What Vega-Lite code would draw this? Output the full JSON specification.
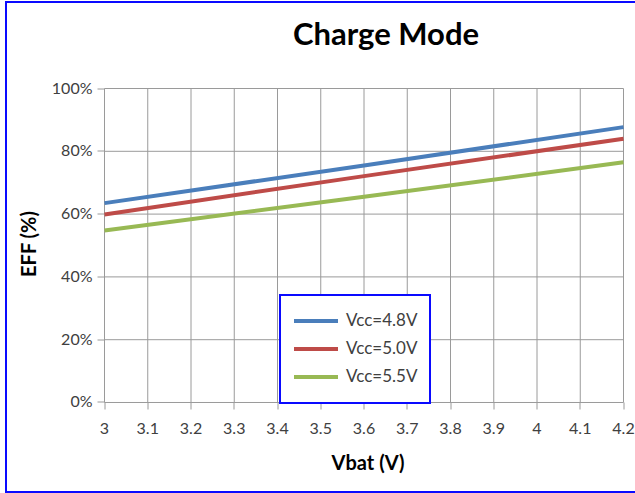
{
  "$schema": "https://vega.github.io/schema/vega-lite/v6.json",
  "width": 632,
  "height": 490,
  "autosize": "none",
  "padding": {"left": 6, "top": 2, "right": -3, "bottom": 1},
  "background": "white",
  "title": {
    "text": "Charge Mode",
    "font": "Lato",
    "fontSize": 31,
    "fontWeight": "bold",
    "color": "#000000",
    "anchor": "middle",
    "frame": "group",
    "dx": 64,
    "offset": -50
  },
  "datasets": {
    "curves": [
      {"vbat": 3.0, "eff": 0.635, "series": "Vcc=4.8V"},
      {"vbat": 3.6, "eff": 0.755, "series": "Vcc=4.8V"},
      {"vbat": 4.2, "eff": 0.877, "series": "Vcc=4.8V"},
      {"vbat": 3.0, "eff": 0.599, "series": "Vcc=5.0V"},
      {"vbat": 3.6, "eff": 0.721, "series": "Vcc=5.0V"},
      {"vbat": 4.2, "eff": 0.840, "series": "Vcc=5.0V"},
      {"vbat": 3.0, "eff": 0.548, "series": "Vcc=5.5V"},
      {"vbat": 3.6, "eff": 0.655, "series": "Vcc=5.5V"},
      {"vbat": 4.2, "eff": 0.765, "series": "Vcc=5.5V"}
    ],
    "xgrid": [
      {"vbat": 3.0}, {"vbat": 3.1}, {"vbat": 3.2}, {"vbat": 3.3}, {"vbat": 3.4},
      {"vbat": 3.5}, {"vbat": 3.6}, {"vbat": 3.7}, {"vbat": 3.8}, {"vbat": 3.9},
      {"vbat": 4.0}, {"vbat": 4.1}, {"vbat": 4.2}
    ],
    "ygrid": [
      {"eff": 0}, {"eff": 0.2}, {"eff": 0.4}, {"eff": 0.6}, {"eff": 0.8}, {"eff": 1}
    ]
  },
  "layer": [
    {
      "data": {"name": "xgrid"},
      "mark": {"type": "rule", "color": "#9a9a9a", "strokeWidth": 1},
      "encoding": {
        "x": {"field": "vbat", "type": "quantitative", "title": "Vbat (V)"},
        "y": {"datum": 0, "type": "quantitative"},
        "y2": {"datum": 1}
      }
    },
    {
      "data": {"name": "ygrid"},
      "mark": {"type": "rule", "color": "#9a9a9a", "strokeWidth": 1},
      "encoding": {
        "y": {"field": "eff", "type": "quantitative", "title": "EFF (%)"},
        "x": {"datum": 3, "type": "quantitative"},
        "x2": {"datum": 4.2}
      }
    },
    {
      "data": {"name": "curves"},
      "mark": {"type": "line", "strokeWidth": 4, "clip": false},
      "encoding": {
        "x": {
          "field": "vbat",
          "type": "quantitative",
          "title": "Vbat (V)",
          "scale": {"domain": [2.772254, 4.233526], "nice": false, "zero": false},
          "axis": {
            "values": [3, 3.1, 3.2, 3.3, 3.4, 3.5, 3.6, 3.7, 3.8, 3.9, 4, 4.1, 4.2],
            "format": "~g",
            "grid": false,
            "domain": false,
            "translate": 0,
            "offset": -89.5,
            "labelFlush": false,
            "labelOverlap": false,
            "tickSize": 7,
            "labelPadding": 11,
            "titlePadding": 17,
            "titleX": 362
          }
        },
        "y": {
          "field": "eff",
          "type": "quantitative",
          "title": "EFF (%)",
          "scale": {"domain": [-0.285032, 1.275478], "nice": false, "zero": false},
          "axis": {
            "values": [0, 0.2, 0.4, 0.6, 0.8, 1],
            "format": ".0%",
            "grid": false,
            "domain": false,
            "translate": 0,
            "offset": -98.5,
            "tickSize": 7,
            "labelPadding": 5,
            "titlePadding": 12,
            "titleY": 242
          }
        },
        "color": {
          "field": "series",
          "type": "nominal",
          "scale": {
            "domain": ["Vcc=4.8V", "Vcc=5.0V", "Vcc=5.5V"],
            "range": ["#4a7ebb", "#be4b48", "#98b954"]
          },
          "legend": {
            "title": null,
            "orient": "none",
            "legendX": 274,
            "legendY": 293,
            "direction": "vertical",
            "symbolType": "stroke",
            "symbolSize": 1936,
            "symbolStrokeWidth": 4,
            "clipHeight": 28,
            "rowPadding": 0,
            "labelOffset": 6,
            "labelFont": "Lato",
            "labelFontSize": 17,
            "labelColor": "#404040",
            "padding": 12,
            "strokeColor": "#0a0aff",
            "fillColor": "#ffffff",
            "encode": {"legend": {"update": {"strokeWidth": {"value": 2}}}}
          }
        }
      }
    }
  ],
  "config": {
    "view": {"stroke": "#0a0aff", "strokeWidth": 2},
    "axis": {
      "tickColor": "#9a9a9a",
      "labelFont": "Lato",
      "labelFontSize": 16,
      "labelColor": "#404040",
      "titleFont": "Lato",
      "titleFontSize": 20,
      "titleFontWeight": "bold",
      "titleColor": "#000000"
    }
  }
}
